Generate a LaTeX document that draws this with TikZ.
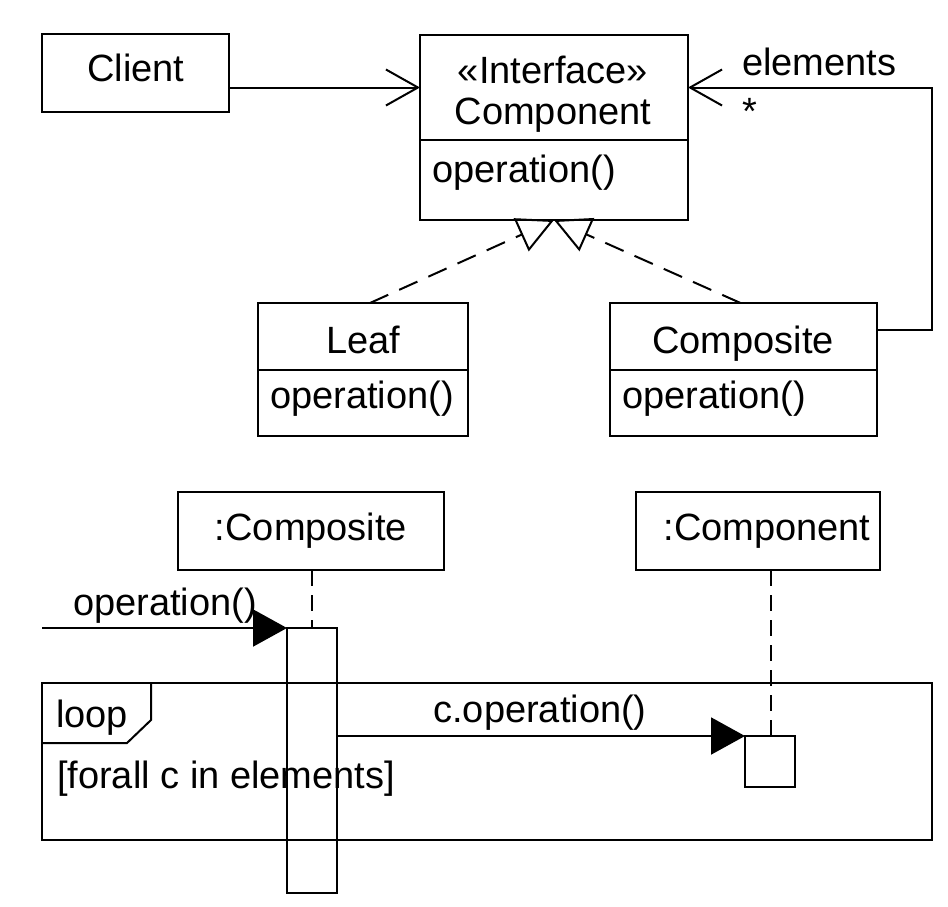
\documentclass[tikz,border=0pt]{standalone}
\usepackage{fontspec}
\setmainfont{Liberation Sans}
\usetikzlibrary{arrows.meta}
\begin{document}
\begin{tikzpicture}[x=1pt,y=-1pt,line width=2pt,
  box/.style={draw,inner sep=0pt,outer sep=0pt,anchor=north west},
  lbl/.style={inner sep=0pt,outer sep=0pt,anchor=base,font=\fontsize{38}{44}\selectfont},
  lblw/.style={lbl,anchor=base west},
  openarr/.style={-{Straight Barb[length=32pt,width=36pt,line width=2pt]}},
  realarr/.style={dash pattern=on 20pt off 12pt,-{Triangle[open,length=36pt,width=36pt,line width=2pt]}},
  msgarr/.style={-{Triangle[length=34pt,width=37pt]}},
  lifeline/.style={dash pattern=on 16pt off 9pt}]
\useasboundingbox (0,0) rectangle (948,906);
% class diagram
\node[box,minimum width=187pt,minimum height=78pt] (client) at (42,34) {};
\node[box,minimum width=268pt,minimum height=105pt] (compH) at (420,35) {};
\node[box,minimum width=268pt,minimum height=80pt] (compB) at (420,140) {};
\node[box,minimum width=210pt,minimum height=67pt] (leafH) at (258,303) {};
\node[box,minimum width=210pt,minimum height=66pt] (leafB) at (258,370) {};
\node[box,minimum width=267pt,minimum height=67pt] (compoH) at (610,303) {};
\node[box,minimum width=267pt,minimum height=66pt] (compoB) at (610,370) {};
\coordinate (elc) at (932,330);
\draw[openarr] (client.east |- compH.west) -- (compH.west);
\draw[openarr] (compoH.east |- elc) -- (elc) |- (compH.east);
\draw[realarr] ([xshift=7pt]leafH.north) -- (compB.south);
\draw[realarr] ([xshift=-3pt]compoH.north) -- (compB.south);
\node[lbl] (tclient) at (136,81) {Client};
\node[lbl] (tint) at (553,83) {«Interface»};
\node[lbl] (tcomp) at (553,124) {Component};
\node[lblw] (tcop) at (432,182) {operation()};
\node[lblw] (tel) at (742,75) {elements};
\node[lblw] (tstar) at (742,124) {*};
\node[lbl] (tleaf) at (363,353) {Leaf};
\node[lblw] (tlop) at (270,408) {operation()};
\node[lbl] (tcompo) at (743,353) {Composite};
\node[lblw] (tcoop) at (622,408) {operation()};
% sequence diagram
\node[box,minimum width=266pt,minimum height=78pt] (sComposite) at (178,492) {};
\node[box,minimum width=244pt,minimum height=78pt] (sComponent) at (636,492) {};
\node[box,minimum width=50pt,minimum height=265pt] (actA) at (287,628) {};
\node[box,minimum width=50pt,minimum height=51pt] (actB) at (745,736) {};
\node[box,minimum width=890pt,minimum height=157pt] (loop) at (42,683) {};
\coordinate (msgstart) at (42,628);
\coordinate (lc) at (771,570);
\coordinate (tagA) at (151,683);
\coordinate (tagB) at (151,720);
\coordinate (tagC) at (127,743);
\coordinate (tagD) at (42,743);
\draw[lifeline] (sComposite.south -| actA.north) -- (actA.north);
\draw[lifeline] (lc) -- (lc |- actB.north);
\draw[msgarr] (msgstart) -- (actA.north west);
\draw[msgarr] (actA.east |- actB.north west) -- (actB.north west);
\draw (tagA) -- (tagB) -- (tagC) -- (tagD);
\node[lbl] (tsc) at (311,540) {:Composite};
\node[lbl] (tscp) at (767,540) {:Component};
\node[lblw] (tmsg) at (73,615) {operation()};
\node[lbl] (tcmsg) at (540,722) {c.operation()};
\node[lblw] (tloop) at (56,727) {loop};
\node[lblw] (tguard) at (57,788) {[forall c in elements]};
\end{tikzpicture}
\end{document}
